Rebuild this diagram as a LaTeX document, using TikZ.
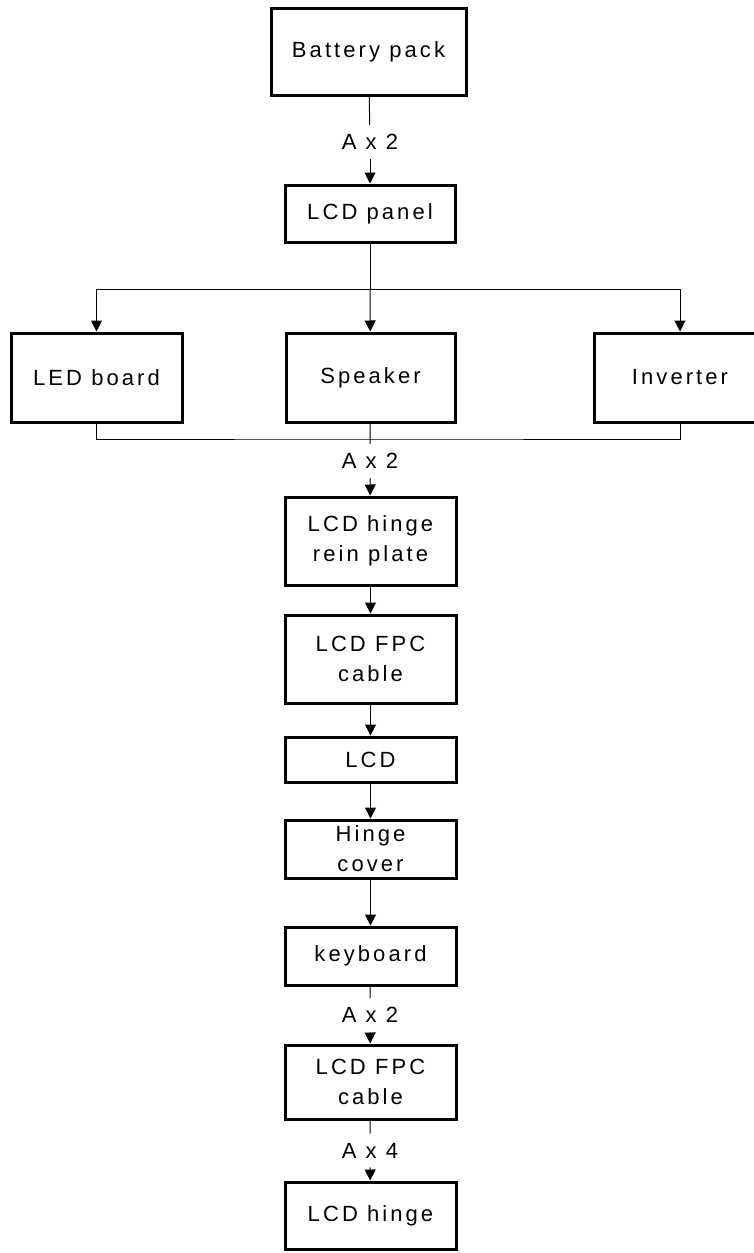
\documentclass[tikz,border=0pt]{standalone}
\usepackage{fontspec}
\setmainfont[LetterSpace=14]{Liberation Sans}
\usepackage{tikz}
\usetikzlibrary{arrows.meta}
\tikzset{
  part/.style={draw=black,fill=white,line width=1.5pt,inner sep=0pt,align=center,
    minimum width=85.5pt,font=\fontsize{11}{15}\selectfont},
  qty/.style={inner xsep=2pt,inner ysep=4.5pt,font=\fontsize{11}{15}\selectfont},
  link/.style={draw=black,line width=0.5pt},
  arr/.style={link,-{Triangle[length=5.5pt,width=5.5pt]}},
}

\begin{document}
\begin{tikzpicture}[x=0.5pt,y=-0.5pt]
\useasboundingbox (0,0) rectangle (754,1253);
\node[part,minimum width=97.5pt,minimum height=43.5pt] (bat) at (368.5,51.5) {Battery pack};
\node[qty] (q1) at (370,142) {A x 2};
\node[part,minimum width=85pt,minimum height=28.5pt] (panel) at (370,213.5) {LCD panel};
\coordinate (split) at (370,289);
\node[part,minimum height=44.5pt] (led) at (96.5,377.5) {LED board};
\node[part,minimum width=84.5pt,minimum height=44.5pt] (spk) at (370.5,377.5) {Speaker};
\node[part,minimum width=86pt,minimum height=44.5pt] (inv) at (680,377.5) {Inverter};
\coordinate (merge) at (370,439);
\node[qty] (q2) at (370,461) {A x 2};
\node[part,minimum height=44pt] (rein) at (370.5,541) {LCD hinge\\rein plate};
\node[part,minimum height=44pt] (fpc1) at (370.5,659) {LCD FPC\\cable};
\node[part,minimum height=22.5pt] (lcd) at (370.5,759.5) {LCD};
\node[part,minimum height=29pt] (hcov) at (370.5,849) {Hinge\\cover};
\node[part,minimum height=29pt] (kbd) at (370.5,956) {keyboard};
\node[qty] (q3) at (370,1015) {A x 2};
\node[part,minimum height=37pt] (fpc2) at (370.5,1082) {LCD FPC\\cable};
\node[qty] (q4) at (370,1150.5) {A x 4};
\node[part,minimum height=33.5pt] (hinge) at (370.5,1215.5) {LCD hinge};
% connectors
\draw[link] (bat) -- (q1);
\draw[arr] (q1) -- (panel);
\draw[link] (panel) -- (split);
\draw[arr] (split) -| (led);
\draw[arr] (split) -- (spk);
\draw[arr] (split) -| (inv);
\draw[link] (led.south) |- (merge) -| (inv.south);
\draw[link] (spk) -- (q2);
\draw[arr] (q2) -- (rein);
\draw[arr] (rein) -- (fpc1);
\draw[arr] (fpc1) -- (lcd);
\draw[arr] (lcd) -- (hcov);
\draw[arr] (hcov) -- (kbd);
\draw[link] (kbd) -- (q3);
\draw[arr] (q3) -- (fpc2);
\draw[link] (fpc2) -- (q4);
\draw[arr] (q4) -- (hinge);
\end{tikzpicture}
\end{document}
